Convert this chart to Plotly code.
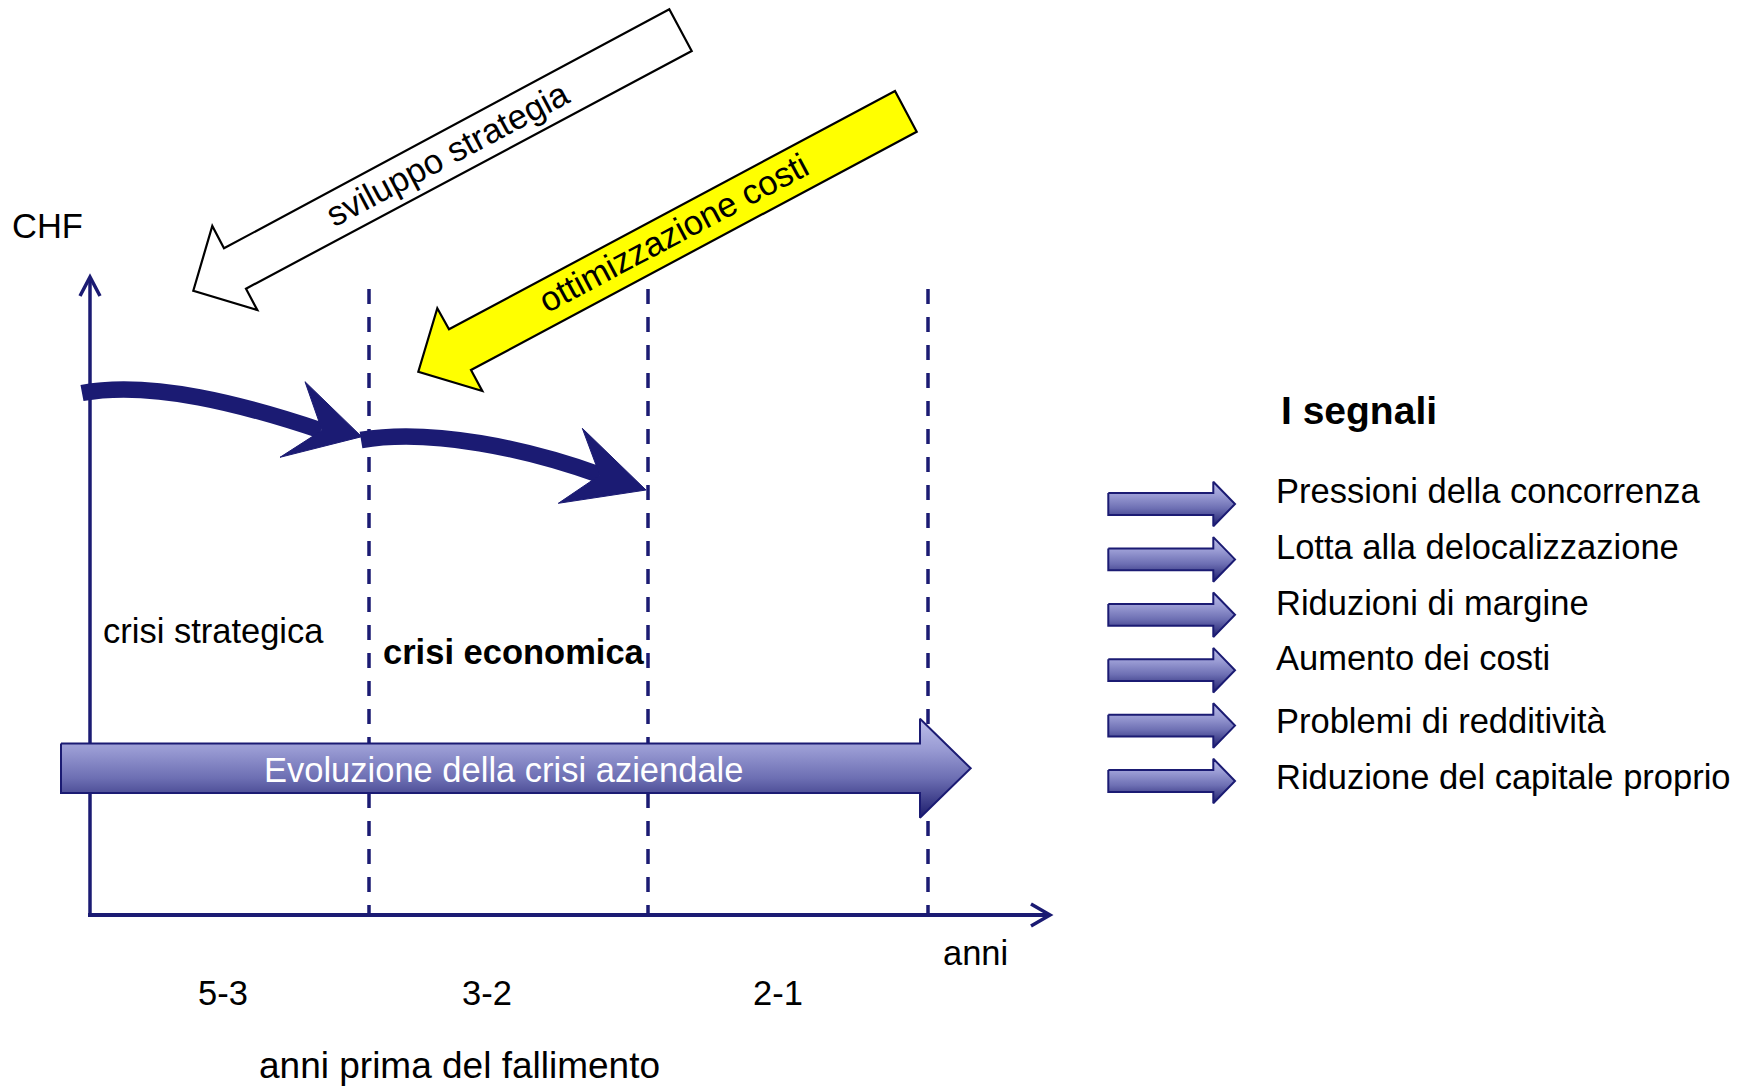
import plotly.graph_objects as go

# ---------------- data (texts of the diagram) ----------------
y_axis_label = "CHF"
x_axis_label = "anni"
period_labels = ["5-3", "3-2", "2-1"]
period_title = "anni prima del fallimento"
phase_labels = ["crisi strategica", "crisi economica"]
measure_labels = ["sviluppo strategia", "ottimizzazione costi"]
evolution_label = "Evoluzione della crisi aziendale"
signals_title = "I segnali"
signal_labels = [
    "Pressioni della concorrenza",
    "Lotta alla delocalizzazione",
    "Riduzioni di margine",
    "Aumento dei costi",
    "Problemi di redditività",
    "Riduzione del capitale proprio",
]

# ---------------- geometry / style ----------------
W, H = 1744, 1088
NAVY = "#1b1b73"
FONT = "Arial, Liberation Sans, sans-serif"
FS = 34.5

x0_axis, y0_axis = 90, 915
y_top_axis, x_end_axis = 276, 1051
boundaries = [369, 648, 928]
dash_top = 289
period_x = [223, 487, 778]
signal_y = [504, 559.4, 614.8, 670.2, 725.6, 781]
signal_text_y = [491, 547, 603, 658, 721, 777]

fig = go.Figure()
shapes = []
ann = []

# axes
shapes.append(dict(type="line", x0=x0_axis, y0=y0_axis + 2, x1=x0_axis, y1=y_top_axis + 1,
                   line=dict(color=NAVY, width=3.5), layer="below"))
shapes.append(dict(type="path", path=f"M {x0_axis-10},{y_top_axis+20} L {x0_axis},{y_top_axis+1} L {x0_axis+10},{y_top_axis+20}",
                   line=dict(color=NAVY, width=3.5), layer="below"))
shapes.append(dict(type="line", x0=x0_axis - 2, y0=y0_axis, x1=x_end_axis - 1, y1=y0_axis,
                   line=dict(color=NAVY, width=4), layer="below"))
shapes.append(dict(type="path", path=f"M {x_end_axis-20},{y0_axis-11} L {x_end_axis-1},{y0_axis} L {x_end_axis-20},{y0_axis+11}",
                   line=dict(color=NAVY, width=3.5), layer="below"))
# dashed period boundaries
for bx in boundaries:
    shapes.append(dict(type="line", x0=bx, y0=dash_top, x1=bx, y1=y0_axis,
                       line=dict(color=NAVY, width=3.5, dash="15px,13px"), layer="below"))

# big white arrow  (sviluppo strategia)
white_arrow = [(193.3, 290.7), (212.3, 226), (224, 248.3), (669.3, 9.3), (691.7, 51),
               (246, 288.7), (257.3, 310)]
shapes.append(dict(type="path", path="M " + " L ".join(f"{x},{y}" for x, y in white_arrow) + " Z",
                   fillcolor="white", line=dict(color="black", width=2.2), layer="above"))
# yellow arrow (ottimizzazione costi)
yellow_arrow = [(418.3, 371.7), (437.3, 308.3), (449, 329.3), (895, 91), (916.7, 131.7),
                (471, 370), (482.3, 391)]
shapes.append(dict(type="path", path="M " + " L ".join(f"{x},{y}" for x, y in yellow_arrow) + " Z",
                   fillcolor="#ffff00", line=dict(color="black", width=2.2), layer="above"))

# curved blue arrows
shapes.append(dict(type="path", path="M 82,393 C 152,380 245,405 321,430.5",
                   line=dict(color=NAVY, width=16.5), layer="above"))
shapes.append(dict(type="path", path="M 305,381.7 L 361.7,436.7 L 280,457.3 L 322,430.3 Z",
                   fillcolor=NAVY, line=dict(color=NAVY, width=1), layer="above"))
shapes.append(dict(type="path", path="M 361,440 C 432,428 528,449 600,475",
                   line=dict(color=NAVY, width=16.5), layer="above"))
shapes.append(dict(type="path", path="M 582.3,428.3 L 646,490 L 558.3,503.3 L 599.8,475.2 Z",
                   fillcolor=NAVY, line=dict(color=NAVY, width=1), layer="above"))


def block_arrow(xl, xb, xt, yc, hb, hh, name):
    xs = [xl, xb, xb, xt, xb, xb, xl, xl]
    ys = [yc - hb, yc - hb, yc - hh, yc, yc + hh, yc + hb, yc + hb, yc - hb]
    return go.Scatter(
        x=xs, y=ys, mode="lines", fill="toself", name=name,
        line=dict(color=NAVY, width=2),
        fillgradient=dict(type="vertical", start=yc - hh, stop=yc + hh,
                          colorscale=[[0, "#bcbeea"], [0.3, "#9a9cd4"], [0.6, "#6d6fb3"], [1, "#1c1c6c"]]),
        hoverinfo="skip", showlegend=False,
    )


# evolution arrow
fig.add_trace(block_arrow(61, 920, 970.7, 768.3, 24.7, 49.5, evolution_label))
# signal arrows
for yc, lab in zip(signal_y, signal_labels):
    fig.add_trace(block_arrow(1108.3, 1213.3, 1235, yc, 10.9, 22.3, lab))

# ---------------- texts ----------------
def txt(text, x, y, size=FS, color="black", xanchor="left", bold=False, angle=0):
    t = f"<b>{text}</b>" if bold else text
    ann.append(dict(text=t, x=x, y=y, xref="x", yref="y", showarrow=False,
                    xanchor=xanchor, yanchor="middle", textangle=angle, borderpad=0,
                    font=dict(family=FONT, size=size, color=color)))


txt(y_axis_label, 11, 226)
txt(x_axis_label, 975, 953, xanchor="center")
for px, lab in zip(period_x, period_labels):
    txt(lab, px, 993, xanchor="center")
txt(period_title, 459, 1065, size=37, xanchor="center")
txt(phase_labels[0], 102, 631)
txt(phase_labels[1], 382, 652, bold=True)
txt(evolution_label, 503, 770, color="white", xanchor="center")
txt(measure_labels[0], 447, 154, size=34.5, xanchor="center", angle=-28)
txt(measure_labels[1], 673, 233, size=34.5, xanchor="center", angle=-28)
txt(signals_title, 1280, 410, size=39, bold=True)
for yt, lab in zip(signal_text_y, signal_labels):
    txt(lab, 1275, yt)

fig.update_layout(
    width=W, height=H, margin=dict(l=0, r=0, t=0, b=0),
    paper_bgcolor="white", plot_bgcolor="white",
    xaxis=dict(range=[0, W], visible=False, fixedrange=True),
    yaxis=dict(range=[H, 0], visible=False, fixedrange=True),
    shapes=shapes, annotations=ann, showlegend=False,
)

fig.write_html("out.html", config={"displayModeBar": False},
               post_script="document.body.style.margin='0';document.body.style.overflow='hidden';")
